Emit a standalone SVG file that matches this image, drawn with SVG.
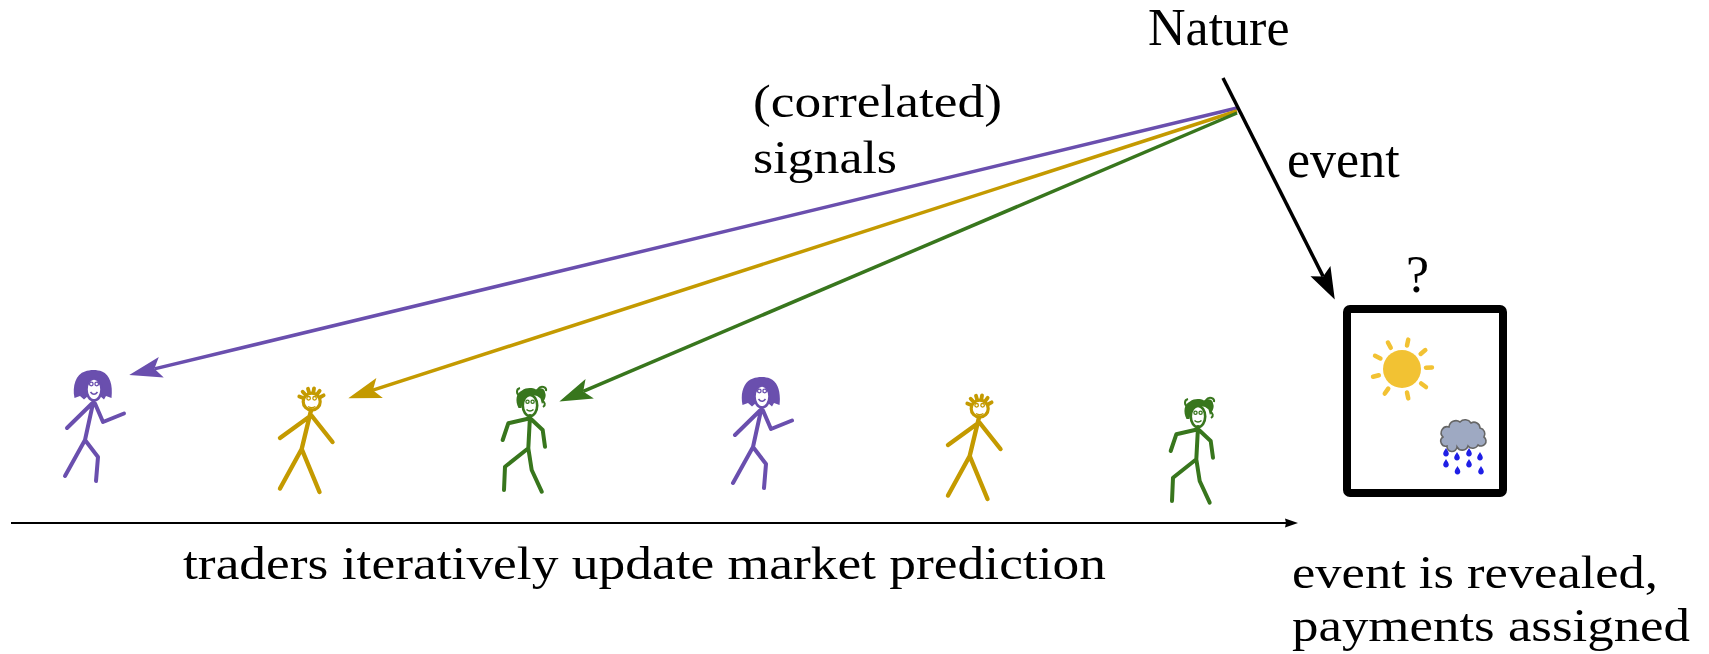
<svg xmlns="http://www.w3.org/2000/svg" xmlns:xlink="http://www.w3.org/1999/xlink" width="1709" height="654" viewBox="0 0 1709 654">
  <style>
    .times { font-family: "Liberation Serif", "Times New Roman", serif; font-size: 52px; fill: #000; }
    .wide { font-family: "Liberation Serif", Georgia, serif; font-size: 47px; fill: #000; }
    .sig { fill: none; stroke-width: 3.5; }
    .limb { fill: none; stroke-width: 4; stroke-linecap: round; stroke-linejoin: round; }
    .purple { stroke: #6a4fae; }
    .gold { stroke: #c49a00; }
    .green { stroke: #38761d; }
  </style>
  <defs>
    <marker id="headPurple" markerUnits="userSpaceOnUse" markerWidth="40" markerHeight="30" viewBox="-2 -12 34 24" refX="6" refY="0" orient="auto">
      <path d="M0,-9 L28,0 L0,9 L6,0 Z" fill="#6a4fae"/>
    </marker>
    <marker id="headGold" markerUnits="userSpaceOnUse" markerWidth="40" markerHeight="30" viewBox="-2 -12 34 24" refX="6" refY="0" orient="auto">
      <path d="M0,-9 L28,0 L0,9 L6,0 Z" fill="#c49a00"/>
    </marker>
    <marker id="headGreen" markerUnits="userSpaceOnUse" markerWidth="40" markerHeight="30" viewBox="-2 -12 34 24" refX="6" refY="0" orient="auto">
      <path d="M0,-9 L28,0 L0,9 L6,0 Z" fill="#38761d"/>
    </marker>
    <marker id="headBlack" markerUnits="userSpaceOnUse" markerWidth="40" markerHeight="30" viewBox="-2 -12 34 24" refX="5" refY="0" orient="auto">
      <path d="M0,-9.5 L27,0 L0,9.5 L5,0 Z" fill="#000"/>
    </marker>
    <marker id="headSmall" markerUnits="userSpaceOnUse" markerWidth="16" markerHeight="12" viewBox="-1 -6 16 12" refX="1" refY="0" orient="auto">
      <path d="M0,-4.5 L13,0 L0,4.5 L1,0 Z" fill="#000"/>
    </marker>

    <!-- long-haired trader -->
    <g id="traderPurple">
      <path d="M74.5,398 C72,386 76,374 85,371.5 C90,369.5 97,369.5 102,371.5 C110,375 113,385 111.5,398 L106,396 L104,399.5 L100,396 L88,396 L84,399.5 L80,396 Z" fill="#6a4fae"/>
      <ellipse cx="94" cy="389.5" rx="7.5" ry="11" fill="#fff" stroke="#6a4fae" stroke-width="2.6"/>
      <circle cx="91.3" cy="384" r="1.8" fill="none" stroke="#6a4fae" stroke-width="1.3"/>
      <circle cx="96.7" cy="384" r="1.8" fill="none" stroke="#6a4fae" stroke-width="1.3"/>
      <path d="M90.5,392 Q94,396.5 97.5,392" fill="none" stroke="#6a4fae" stroke-width="1.6"/>
      <path class="limb purple" d="M93.5,401 L85,440 M92,403.5 L67,428 M95,403.5 L103,422 L124,413.5 M85,440 L65,476 M85,440 L98,457 L96,481"/>
    </g>

    <!-- spiky-haired trader -->
    <g id="traderGold">
      <g transform="translate(311.7,401.7)" stroke="#c49a00" stroke-width="3.8" stroke-linecap="round">
        <line x1="10" x2="13.5" transform="rotate(-157)"/>
        <line x1="10" x2="13.5" transform="rotate(-132)"/>
        <line x1="10" x2="13.5" transform="rotate(-106)"/>
        <line x1="10" x2="13.5" transform="rotate(-80)"/>
        <line x1="10" x2="13.5" transform="rotate(-54)"/>
        <line x1="10" x2="13.5" transform="rotate(-28)"/>
      </g>
      <circle cx="311.7" cy="401.7" r="8.5" fill="#fff" stroke="#c49a00" stroke-width="3.2"/>
      <circle cx="308.6" cy="398.3" r="1.8" fill="none" stroke="#c49a00" stroke-width="1.3"/>
      <circle cx="314.6" cy="398.3" r="1.8" fill="none" stroke="#c49a00" stroke-width="1.3"/>
      <path d="M308,406.5 Q311.7,409 315.4,406.5" fill="none" stroke="#c49a00" stroke-width="1.4"/>
      <path class="limb gold" style="stroke-width:4.4" d="M311,410.5 L301.7,449 M311,415.5 L280,438 M311.5,415.5 L332.5,442 M301.7,449 L280,488.5 M301.7,449 L319.5,492"/>
    </g>

    <!-- shaggy-haired trader -->
    <g id="traderGreen">
      <ellipse cx="530" cy="405.5" rx="7.2" ry="10.5" fill="#fff" stroke="#38761d" stroke-width="2.6"/>
      <path d="M518.5,408 C515,401 516,393 522,390.5 C526,387.5 532,387.5 536,389.5 C539,387 545,388 545,392.5 C547,396 544,401 542,404 L540.5,398.5 C538,395.5 534,394.5 529,395.5 C525,396 523,400 521.5,408 Z" fill="#38761d"/>
      <path d="M520,396 C516,394 516,389 520,388 M538,389 C541,385 547,387 546,391 M542,401 C545,402 546,405 543,407" fill="none" stroke="#38761d" stroke-width="2"/>
      <circle cx="527.5" cy="401.8" r="1.6" fill="none" stroke="#38761d" stroke-width="1.3"/>
      <circle cx="532.6" cy="401.8" r="1.6" fill="none" stroke="#38761d" stroke-width="1.3"/>
      <path d="M526.5,409.5 Q530,412.5 533.5,409.5" fill="none" stroke="#38761d" stroke-width="1.5"/>
      <path class="limb green" d="M530,416 L528.3,448.3 M529,418.5 L508.3,423.3 L502.7,440 M531,419 L542.7,430 L545,446.7 M528.3,448.3 L505,466.7 L504,490 M528.3,448.3 L531.7,470 L541.7,491.7"/>
    </g>

    <!-- rain drop -->
    <path id="drop" d="M0,-4 C1.4,-1.6 2.8,0 2.8,1.6 A2.8,2.8 0 0 1 -2.8,1.6 C-2.8,0 -1.4,-1.6 0,-4 Z" fill="#1f1fe6"/>
  </defs>

  <!-- traders along the timeline -->
  <g id="trader1"><use href="#traderPurple"/></g>
  <g id="trader2"><use href="#traderGold"/></g>
  <g id="trader3"><use href="#traderGreen"/></g>
  <g id="trader4"><use href="#traderPurple" transform="translate(668,7)"/></g>
  <g id="trader5"><use href="#traderGold" transform="translate(668,7)"/></g>
  <g id="trader6"><use href="#traderGreen" transform="translate(668,11)"/></g>

  <!-- nature -->
  <g id="nature">
    <text class="times" x="1148" y="45">Nature</text>
  </g>

  <!-- outcome box: sun or rain -->
  <g id="outcome">
    <rect x="1347" y="309" width="156" height="184" rx="3" fill="#fff" stroke="#000" stroke-width="8"/>
    <text class="times" x="1406" y="292">?</text>
    <g transform="translate(1402,369)" stroke="#f2c233" stroke-width="4.5" stroke-linecap="round">
      <line x1="24" x2="30" transform="rotate(-3)"/>
      <line x1="24" x2="30" transform="rotate(37)"/>
      <line x1="24" x2="30" transform="rotate(78)"/>
      <line x1="24" x2="30" transform="rotate(125)"/>
      <line x1="24" x2="30" transform="rotate(165)"/>
      <line x1="24" x2="30" transform="rotate(206)"/>
      <line x1="24" x2="30" transform="rotate(242)"/>
      <line x1="24" x2="30" transform="rotate(282)"/>
      <line x1="24" x2="30" transform="rotate(321)"/>
      <circle cx="0" cy="0" r="19" fill="#f2c233" stroke="none"/>
    </g>
    <path d="M1447,446 A5,5 0 0 1 1443,437 A6,6 0 0 1 1449,427 A7,7 0 0 1 1460,422 A7,7 0 0 1 1471,423 A6,6 0 0 1 1480,428 A6,6 0 0 1 1484,437 A5,5 0 0 1 1478,445 A6,6 0 0 1 1468,446 A6,6 0 0 1 1457,447 A5,5 0 0 1 1447,446 Z" fill="#9ea9c2" stroke="#666" stroke-width="1.6"/>
    <use href="#drop" x="1446" y="452"/>
    <use href="#drop" x="1457" y="456"/>
    <use href="#drop" x="1469" y="452"/>
    <use href="#drop" x="1480" y="456"/>
    <use href="#drop" x="1446" y="463"/>
    <use href="#drop" x="1457.5" y="470"/>
    <use href="#drop" x="1469" y="463"/>
    <use href="#drop" x="1481" y="470"/>
  </g>

  <!-- connectors -->
  <g id="connectors">
    <line class="sig purple" x1="1237" y1="108" x2="154.4" y2="368.85" marker-end="url(#headPurple)"/>
    <line class="sig gold" x1="1237" y1="111" x2="372.9" y2="390.2" marker-end="url(#headGold)"/>
    <line class="sig green" x1="1237" y1="113" x2="583.2" y2="391.4" marker-end="url(#headGreen)"/>
    <line x1="1223" y1="78" x2="1323.1" y2="276.4" stroke="#000" stroke-width="3.5" marker-end="url(#headBlack)"/>
    <line x1="11" y1="523" x2="1286" y2="523" stroke="#000" stroke-width="2" marker-end="url(#headSmall)"/>
  </g>

  <!-- labels -->
  <g id="labels">
    <text class="wide" x="753" y="117" textLength="249" lengthAdjust="spacingAndGlyphs">(correlated)</text>
    <text class="wide" x="753" y="173" textLength="144" lengthAdjust="spacingAndGlyphs">signals</text>
    <text class="times" x="1287" y="177">event</text>
    <text class="wide" x="183" y="579" textLength="923" lengthAdjust="spacingAndGlyphs">traders iteratively update market prediction</text>
    <text class="wide" x="1292" y="588" textLength="366" lengthAdjust="spacingAndGlyphs">event is revealed,</text>
    <text class="wide" x="1292" y="641" textLength="398" lengthAdjust="spacingAndGlyphs">payments assigned</text>
  </g>
</svg>
